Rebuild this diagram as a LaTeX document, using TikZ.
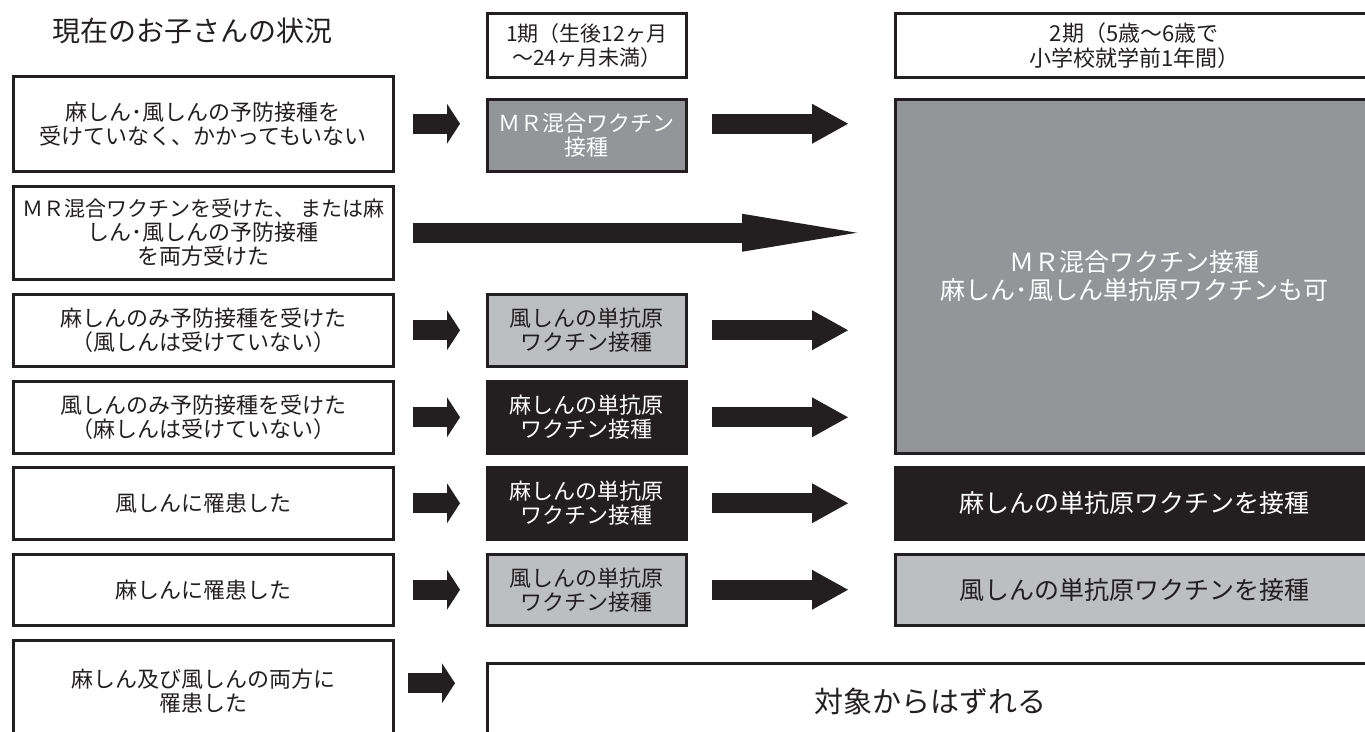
\documentclass[tikz,border=0pt]{standalone}
\usepackage{fontspec}
\setmainfont{Noto Sans CJK JP}
\usetikzlibrary{arrows.meta}
\definecolor{inkblack}{HTML}{231F20}
\definecolor{darkgrey}{HTML}{939598}
\definecolor{lightgrey}{HTML}{BCBEC0}

\begin{document}
\begin{tikzpicture}[x=1pt,y=-1pt,
  box/.style={draw=inkblack,line width=2.5pt,inner sep=0pt,anchor=north west,align=center,text=inkblack,font=\fontsize{22}{24}\selectfont},
  left box/.style={box,minimum width=380pt},
  mid box/.style={box,minimum width=199pt,minimum height=72pt},
  right box/.style={box,minimum width=478pt,font=\fontsize{25}{28}\selectfont},
  dark/.style={fill=darkgrey,text=white},
  light/.style={fill=lightgrey},
  black/.style={fill=inkblack,text=white},
  fat/.style={draw=inkblack,line width=20pt},
  fatsmall/.style={fat,-{Triangle[length=13pt,width=40pt,line width=0pt]},shorten <=18pt,shorten >=26pt},
  fatlong/.style={fat,-{Triangle[length=36pt,width=40pt,line width=0pt]},shorten <=24pt,shorten >=46pt}]

  \useasboundingbox (0,0) rectangle (1365,731);
  \clip (0,0) rectangle (1365,731);

  % headings
  \node (t) [font=\fontsize{28}{30}\selectfont,text=inkblack] at (192,31) {現在のお子さんの状況};
  \node[box,minimum width=199pt,minimum height=64pt,font=\fontsize{21}{24}\selectfont] (h1) at (486,12) {1期（生後12ヶ月\\～24ヶ月未満）};
  \node[right box,minimum height=64pt,font=\fontsize{22}{25}\selectfont] (h2) at (894,12) {2期（5歳～6歳で\\小学校就学前1年間）};

  % current state
  \node[left box,minimum height=95pt] (1) at (12,75) {麻しん･風しんの予防接種を\\受けていなく、かかってもいない};
  \node[left box,minimum height=93pt] (2) at (12,185) {{\fontsize{21}{23}\selectfont ＭＲ混合ワクチンを受けた、 または麻}\\しん･風しんの予防接種\\を両方受けた};
  \node[left box,minimum height=72pt] (3) at (12,293) {麻しんのみ予防接種を受けた\\（風しんは受けていない）};
  \node[left box,minimum height=72pt] (4) at (12,380) {風しんのみ予防接種を受けた\\（麻しんは受けていない）};
  \node[left box,minimum height=72pt] (5) at (12,466) {風しんに罹患した};
  \node[left box,minimum height=71pt] (6) at (12,553) {麻しんに罹患した};
  \node[left box,minimum height=102pt] (7) at (12,639) {麻しん及び風しんの両方に\\罹患した};

  % 1st period
  \node[mid box,dark] (1m) at (486,98) {ＭＲ混合ワクチン\\接種};
  \node[mid box,light] (3m) at (486,293) {風しんの単抗原\\ワクチン接種};
  \node[mid box,black] (4m) at (486,380) {麻しんの単抗原\\ワクチン接種};
  \node[mid box,black] (5m) at (486,466) {麻しんの単抗原\\ワクチン接種};
  \node[mid box,light,minimum height=71pt] (6m) at (486,553) {風しんの単抗原\\ワクチン接種};

  % 2nd period
  \node[right box,dark,minimum height=354pt] (1r) at (894,98) {ＭＲ混合ワクチン接種\\麻しん･風しん単抗原ワクチンも可};
  \node[right box,black,minimum height=72pt] (5r) at (894,466) {麻しんの単抗原ワクチンを接種};
  \node[right box,light,minimum height=71pt] (6r) at (894,553) {風しんの単抗原ワクチンを接種};
  \node[box,minimum width=886pt,minimum height=80pt,font=\fontsize{29}{32}\selectfont] (7r) at (486,662) {\raisebox{6pt}{対象からはずれる}};

  \draw[fatsmall] (1.east) -- (1.east -| 1m.west);
  \draw[fatlong] (1m.east |- 1.east) -- (1r.west |- 1.east);
  \draw[fat,-{Triangle[length=115pt,width=38pt,line width=0pt]},shorten <=18pt,shorten >=37pt] (2.east) -- (2.east -| 1r.west);
  \draw[fatsmall] (3.east) -- (3m.west);
  \draw[fatlong] (3m.east) -- (3m.east -| 1r.west);
  \draw[fatsmall] (4.east) -- (4m.west);
  \draw[fatlong] (4m.east) -- (4m.east -| 1r.west);
  \draw[fatsmall] (5.east) -- (5m.west);
  \draw[fatlong] (5m.east) -- (5r.west);
  \draw[fatsmall] (6.east) -- (6m.west);
  \draw[fatlong] (6m.east) -- (6r.west);
  \draw[fatsmall,shorten <=13pt,shorten >=31pt] ([yshift=8pt]7.east) -- ([yshift=8pt]7.east -| 7r.west);

\end{tikzpicture}
\end{document}
